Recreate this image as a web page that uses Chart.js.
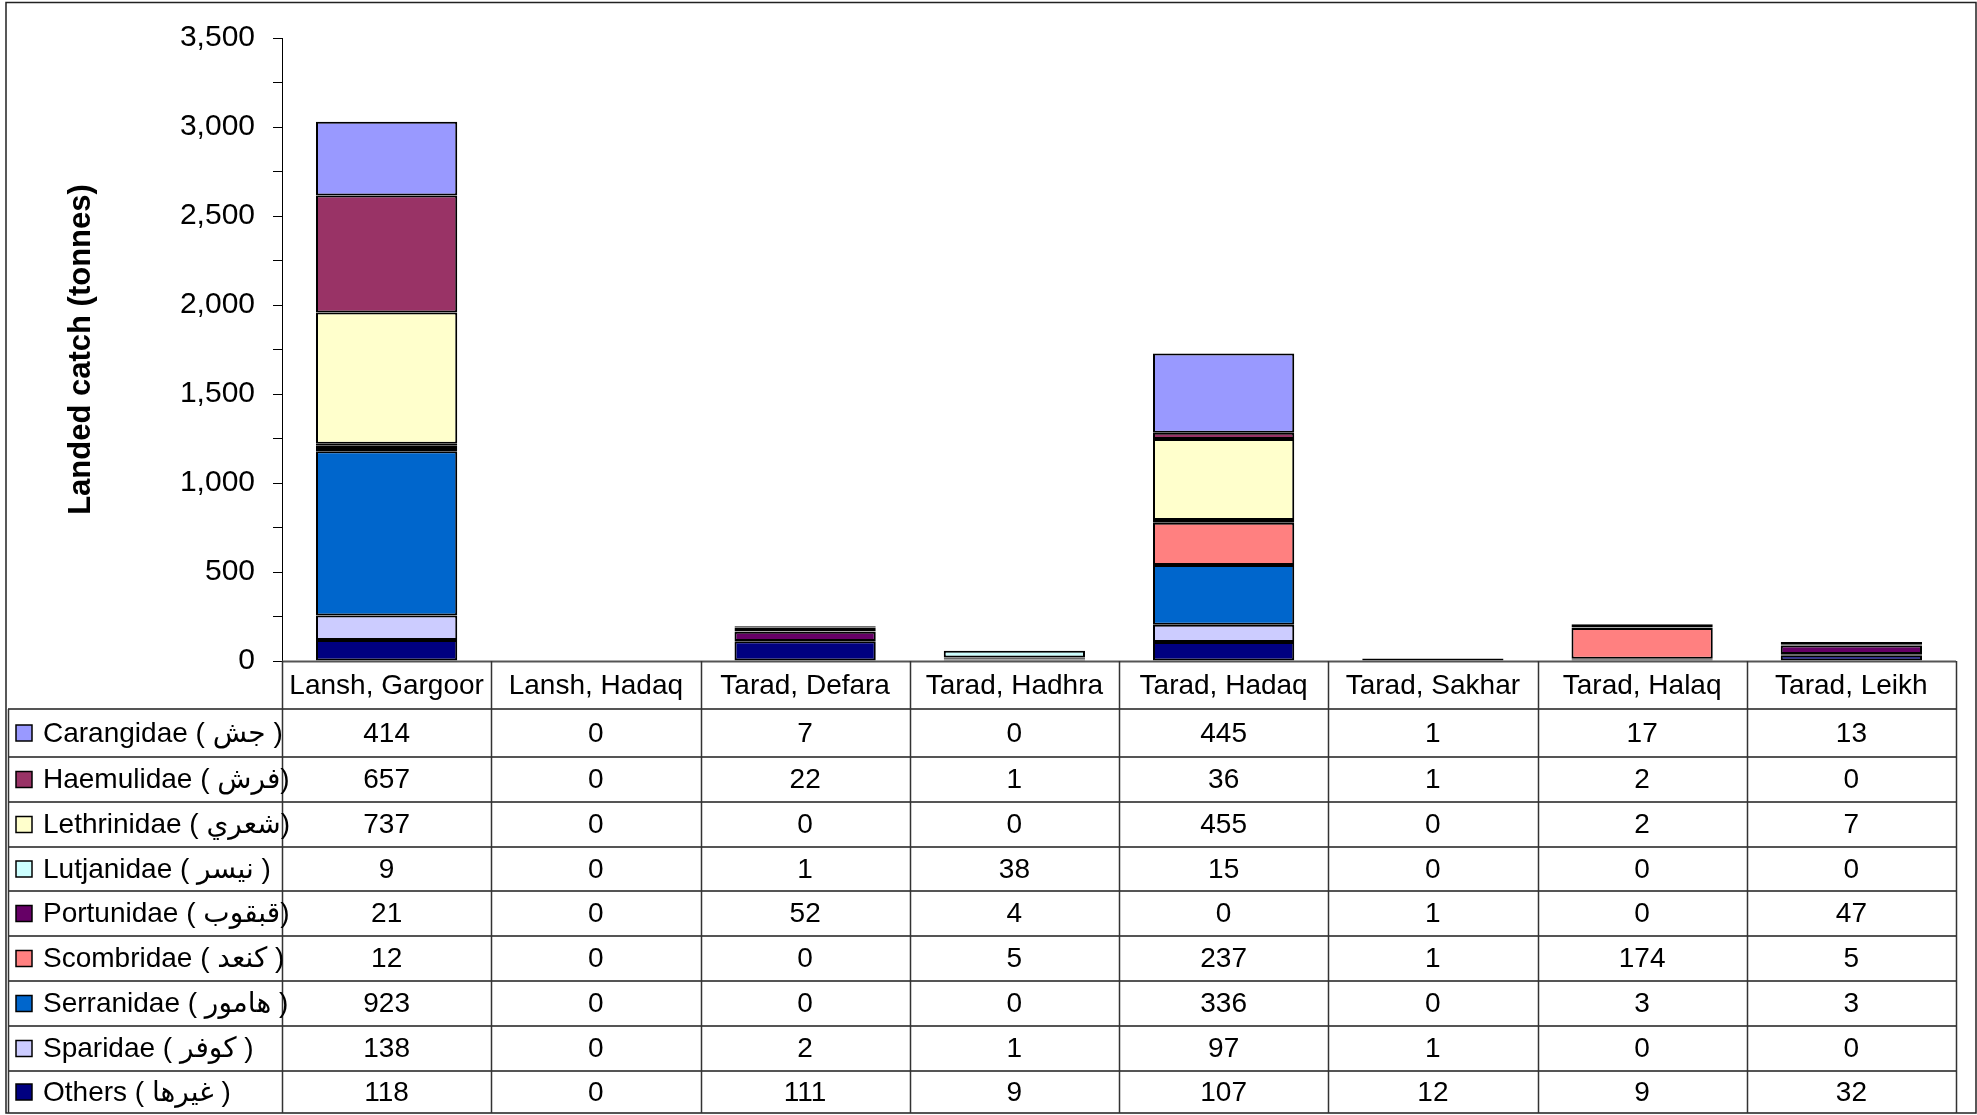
<!DOCTYPE html>
<html>
<head>
<meta charset="utf-8">
<script src="https://cdn.jsdelivr.net/npm/chart.js@4.4.1/dist/chart.umd.min.js"></script>
<style>
  body { margin: 0; background: #fff; }
  canvas { display: block; }
</style>
</head>
<body>
<canvas id="myChart" width="1977" height="1115"></canvas>
<script>
const categories = ['Lansh, Gargoor', 'Lansh, Hadaq', 'Tarad, Defara', 'Tarad, Hadhra',
    'Tarad, Hadaq', 'Tarad, Sakhar', 'Tarad, Halaq', 'Tarad, Leikh'];

const carangidae  = [414, 0, 7, 0, 445, 1, 17, 13];
const haemulidae  = [657, 0, 22, 1, 36, 1, 2, 0];
const lethrinidae = [737, 0, 0, 0, 455, 0, 2, 7];
const lutjanidae  = [9, 0, 1, 38, 15, 0, 0, 0];
const portunidae  = [21, 0, 52, 4, 0, 1, 0, 47];
const scombridae  = [12, 0, 0, 5, 237, 1, 174, 5];
const serranidae  = [923, 0, 0, 0, 336, 0, 3, 3];
const sparidae    = [138, 0, 2, 1, 97, 1, 0, 0];
const others      = [118, 0, 111, 9, 107, 12, 9, 32];

const speciesNames = ['Carangidae ( جش )', 'Haemulidae ( فرش)', 'Lethrinidae ( شعري)',
    'Lutjanidae ( نيسر )', 'Portunidae ( قبقوب)', 'Scombridae ( كنعد )',
    'Serranidae ( هامور )', 'Sparidae ( كوفر )', 'Others ( غيرها )'];
const speciesValues = [carangidae, haemulidae, lethrinidae, lutjanidae, portunidae,
    scombridae, serranidae, sparidae, others];

const yTicks = { min: 0, max: 3500, step: 250, labelEvery: 500 };

const colors = ['#9999FF', '#993366', '#FFFFCC', '#CCFFFF', '#660066',
    '#FF8080', '#0066CC', '#CCCCFF', '#000080'];

const FONT = "'Liberation Sans', Arial, 'DejaVu Sans', sans-serif";

// y of the table's row lines (header bottom ... table bottom)
const rowLines = [709, 757, 802, 847, 891, 936, 981, 1026, 1071, 1113];

// first dataset sits at the bottom of the stack, so reverse the table order
var datasets = speciesNames.map(function (name, i) {
    return {
        label: name,
        data: speciesValues[i],
        backgroundColor: colors[i],
        borderColor: '#000',
        borderWidth: 2,
        borderSkipped: false
    };
}).reverse();

// draws the data table (with legend keys) under the plot
const dataTable = {
    id: 'dataTable',
    afterDraw(chart) {
        const ctx = chart.ctx;
        const area = chart.chartArea;
        const x = chart.scales.x;
        const colW = x.getPixelForValue(1) - x.getPixelForValue(0);
        const tableLeft = 8;
        const tableRight = x.getPixelForValue(categories.length - 1) + colW / 2;
        const headTop = area.bottom;
        const headBottom = rowLines[0];
        const tableBottom = rowLines[rowLines.length - 1];

        ctx.save();

        // outer frame
        ctx.strokeStyle = '#222';
        ctx.lineWidth = 1.5;
        ctx.strokeRect(6, 2.5, 1970, tableBottom - 2.5);

        // horizontal lines
        ctx.strokeStyle = '#555';
        ctx.lineWidth = 2;
        ctx.beginPath();
        ctx.moveTo(area.left, headTop + 0.5);
        ctx.lineTo(tableRight, headTop + 0.5);
        rowLines.forEach(function (y) {
            ctx.moveTo(tableLeft, y);
            ctx.lineTo(tableRight, y);
        });
        ctx.stroke();

        // vertical lines
        ctx.lineWidth = 1.5;
        ctx.strokeStyle = '#333';
        ctx.beginPath();
        ctx.moveTo(tableLeft + 0.5, headBottom);
        ctx.lineTo(tableLeft + 0.5, tableBottom);
        for (let c = 0; c <= categories.length; c++) {
            const xx = Math.round(x.getPixelForValue(c) - colW / 2) + 0.5;
            ctx.moveTo(xx, headTop);
            ctx.lineTo(xx, tableBottom);
        }
        ctx.stroke();

        // header labels
        ctx.fillStyle = '#000';
        ctx.font = '28px ' + FONT;
        ctx.textAlign = 'center';
        ctx.textBaseline = 'middle';
        categories.forEach(function (cat, c) {
            ctx.fillText(cat, x.getPixelForValue(c), (headTop + headBottom) / 2 + 1);
        });

        // rows
        speciesNames.forEach(function (name, r) {
            const yc = (rowLines[r] + rowLines[r + 1]) / 2 + 1;
            ctx.fillStyle = colors[r];
            ctx.fillRect(16, yc - 9, 16, 16);
            ctx.strokeStyle = '#000';
            ctx.lineWidth = 1.5;
            ctx.strokeRect(16, yc - 9, 16, 16);

            ctx.fillStyle = '#000';
            ctx.textAlign = 'left';
            ctx.direction = 'ltr';
            ctx.fillText(name, 43, yc);

            ctx.textAlign = 'center';
            speciesValues[r].forEach(function (v, c) {
                ctx.fillText(String(v), x.getPixelForValue(c), yc);
            });
        });

        ctx.restore();
    }
};

new Chart(document.getElementById('myChart'), {
    type: 'bar',
    data: { labels: categories, datasets: datasets },
    options: {
        responsive: false,
        animation: false,
        layout: { padding: { left: 8, right: 21, top: 38, bottom: 454 } },
        plugins: { legend: { display: false }, tooltip: { enabled: false } },
        datasets: { bar: { barPercentage: 0.675, categoryPercentage: 1 } },
        scales: {
            x: {
                stacked: true,
                display: false
            },
            y: {
                stacked: true,
                min: yTicks.min,
                max: yTicks.max,
                afterFit: function (s) { s.width = 274; },
                ticks: {
                    stepSize: yTicks.step,
                    autoSkip: false,
                    padding: 18,
                    color: '#000',
                    font: { family: FONT, size: 30 },
                    callback: function (v) {
                        return v % yTicks.labelEvery === 0 ? v.toLocaleString('en-US') : '';
                    }
                },
                grid: { drawOnChartArea: false, drawTicks: true, tickLength: 9, color: '#000', lineWidth: 1 },
                border: { display: true, color: '#000', width: 1 },
                title: {
                    display: true,
                    text: 'Landed catch (tonnes)',
                    color: '#000',
                    font: { family: FONT, size: 31, weight: 'bold' },
                    padding: { top: 55, bottom: 0 }
                }
            }
        }
    },
    plugins: [dataTable]
});
</script>
</body>
</html>
